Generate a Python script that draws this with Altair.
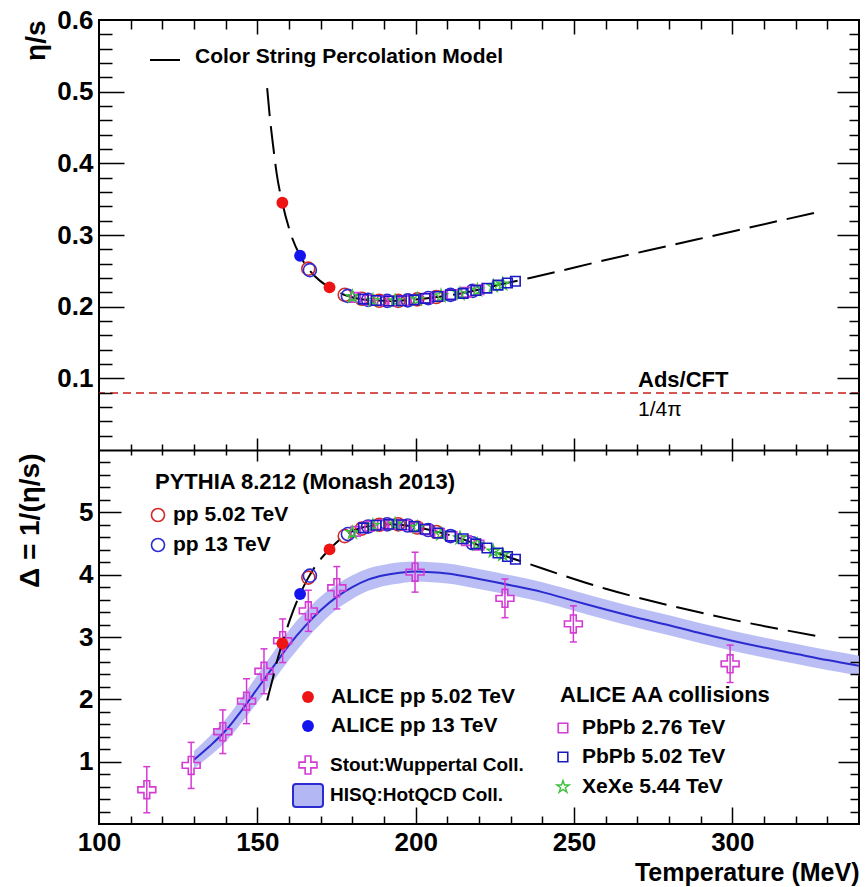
import altair as alt
import pandas as pd

# ---------------- data ----------------
# Color String Percolation Model curve (eta/s vs temperature in MeV)
cspm_T = [153.1, 154.0, 155.0, 156.1, 157.9, 160.3, 163.5, 166.1, 169.8, 172.8, 177.2,
          183.5, 191.9, 202.4, 215.0, 228.8, 236.1, 260.0, 280.0, 300.0, 328.0]
cspm_eta = [0.505, 0.462, 0.424, 0.386, 0.345, 0.305, 0.271, 0.253, 0.236, 0.227, 0.217,
            0.210, 0.208, 0.211, 0.219, 0.233, 0.240, 0.265, 0.285, 0.305, 0.333]

# ALICE pp points (filled circles)
alice_pp502_T = [157.9, 172.8]
alice_pp502_eta = [0.345, 0.227]
alice_pp13_T = [163.5]
alice_pp13_eta = [0.271]

# PYTHIA 8.212 (open circles)
pythia502_T = [166.1, 177.6, 183.0, 188.5, 194.5, 200.5, 206.5]
pythia502_eta = [0.253, 0.2165, 0.211, 0.2083, 0.208, 0.2102, 0.2135]
pythia13_T = [166.6, 178.6, 185.0, 191.0, 197.5, 204.0, 211.0, 218.0]
pythia13_eta = [0.251, 0.215, 0.2095, 0.208, 0.2088, 0.212, 0.2165, 0.222]

# ALICE AA collisions
pbpb276_T = [181.0, 185.5, 189.5, 193.0, 196.5, 200.0, 203.5, 207.5, 211.5, 216.0, 220.0]
pbpb276_eta = [0.213, 0.2093, 0.2082, 0.208, 0.2085, 0.210, 0.2118, 0.2145, 0.2168, 0.220, 0.2235]
pbpb502_T = [183.5, 187.5, 191.5, 195.5, 199.5, 203.0, 207.0, 211.0, 215.0, 219.0, 222.5,
             226.0, 229.0, 231.5]
pbpb502_eta = [0.2105, 0.2086, 0.208, 0.2083, 0.2095, 0.2115, 0.2142, 0.2165, 0.2185, 0.2225,
               0.2258, 0.230, 0.233, 0.2355]
xexe_T = [180.0, 186.5, 193.5, 200.5, 208.0, 214.0, 219.5, 224.5, 227.5]
xexe_eta = [0.214, 0.2088, 0.208, 0.2102, 0.215, 0.218, 0.223, 0.2285, 0.2315]

# Stout: Wuppertal lattice points (Delta = 1/(eta/s)) with errors
stout_T = [115.1, 129.1, 139.1, 146.6, 152.1, 158.0, 166.1, 175.1, 199.8, 228.2, 249.8, 299.3]
stout_D = [0.55, 0.94, 1.48, 1.97, 2.45, 2.94, 3.42, 3.79, 4.04, 3.62, 3.21, 2.57]
stout_err = [0.37, 0.37, 0.35, 0.36, 0.36, 0.35, 0.33, 0.34, 0.32, 0.31, 0.29, 0.30]

# HISQ: HotQCD band (centre and half width)
hisq_T = [130, 135, 140, 145, 150, 155, 160, 165, 170, 175, 180, 185, 190, 195, 200, 205,
          210, 220, 230, 240, 250, 260, 270, 280, 290, 300, 310, 320, 330, 340]
hisq_D = [1.03, 1.25, 1.50, 1.82, 2.17, 2.52, 2.87, 3.17, 3.43, 3.64, 3.80, 3.92, 3.99, 4.03,
          4.05, 4.04, 4.02, 3.93, 3.83, 3.72, 3.58, 3.44, 3.31, 3.19, 3.06, 2.94, 2.83, 2.73,
          2.63, 2.54]
hisq_err = [0.14, 0.16, 0.18, 0.20, 0.22, 0.23, 0.24, 0.23, 0.22, 0.20, 0.19, 0.18, 0.17,
            0.17, 0.16, 0.16, 0.16, 0.16, 0.16, 0.16, 0.16, 0.16, 0.16, 0.16, 0.16, 0.16,
            0.16, 0.16, 0.16, 0.16]

# AdS/CFT bound 1/4pi
ads_cft = [0.0796]

# axis ticks / labels
x_labels = [100, 150, 200, 250, 300]
x_major = [150, 200, 250, 300]
x_minor = [110, 120, 130, 140, 160, 170, 180, 190, 210, 220, 230, 240, 260, 270, 280, 290,
           310, 320, 330]
ytop_labels = [0.1, 0.2, 0.3, 0.4, 0.5, 0.6]
ytop_major = [0.1, 0.2, 0.3, 0.4, 0.5]
ytop_minor = [0.02, 0.04, 0.06, 0.08, 0.12, 0.14, 0.16, 0.18, 0.22, 0.24, 0.26, 0.28, 0.32,
              0.34, 0.36, 0.38, 0.42, 0.44, 0.46, 0.48, 0.52, 0.54, 0.56, 0.58]
ybot_labels = [1, 2, 3, 4, 5]
ybot_major = [1, 2, 3, 4, 5]
ybot_minor = [0.2, 0.4, 0.6, 0.8, 1.2, 1.4, 1.6, 1.8, 2.2, 2.4, 2.6, 2.8, 3.2, 3.4, 3.6, 3.8,
              4.2, 4.4, 4.6, 4.8, 5.2, 5.4, 5.6, 5.8]

# ---------------- styling ----------------
FONT = "Liberation Sans"
W, H = 760, 804
SPLIT = 430
RED = "#ee1414"
BLUE = "#1414ee"
MAG = "#d43ad4"
GREEN = "#3cc03c"
HISQ_LINE = "#2b2bd0"
HISQ_FILL = "#b3b7f3"
CROSS = "M-1,-0.32H-0.32V-1H0.32V-0.32H1V0.32H0.32V1H-0.32V0.32H-1Z"
STAR = ("M0,-1L0.2234,-0.3074L0.9511,-0.309L0.3614,0.1174L0.5878,0.809L0,0.38"
        "L-0.5878,0.809L-0.3614,0.1174L-0.9511,-0.309L-0.2234,-0.3074Z")

x_scale = alt.Scale(domain=[100, 340], nice=False, zero=False)


def y_top():
    return alt.Scale(domain=[0, 0.6], range=[SPLIT, 0], nice=False, zero=False)


def y_bot():
    return alt.Scale(domain=[0, 6], range=[H, SPLIT], nice=False, zero=False)


def xenc(field="T"):
    return alt.X(f"{field}:Q", scale=x_scale, axis=None)


layers = []

# HISQ band and line
hisq = pd.DataFrame({"T": hisq_T, "D": hisq_D, "e": hisq_err})
layers.append(
    alt.Chart(hisq)
    .transform_calculate(lo="datum.D - datum.e", hi="datum.D + datum.e")
    .mark_area(color=HISQ_FILL, opacity=0.9, interpolate="monotone")
    .encode(x=xenc(), y=alt.Y("lo:Q", scale=y_bot(), axis=None), y2="hi:Q")
)
layers.append(
    alt.Chart(hisq)
    .mark_line(color=HISQ_LINE, strokeWidth=2, interpolate="monotone")
    .encode(x=xenc(), y=alt.Y("D:Q", scale=y_bot(), axis=None))
)

# Stout points with error bars
stout = pd.DataFrame({"T": stout_T, "D": stout_D, "e": stout_err})
stout_c = alt.Chart(stout).transform_calculate(lo="datum.D - datum.e", hi="datum.D + datum.e")
layers.append(
    stout_c.mark_rule(color=MAG, strokeWidth=1.5)
    .encode(x=xenc(), y=alt.Y("lo:Q", scale=y_bot(), axis=None), y2="hi:Q")
)
for f in ["lo", "hi"]:
    layers.append(
        stout_c.mark_tick(color=MAG, orient="horizontal", size=7, thickness=1.5, opacity=1)
        .encode(x=xenc(), y=alt.Y(f"{f}:Q", scale=y_bot(), axis=None))
    )
layers.append(
    stout_c.mark_point(shape=CROSS, size=320, filled=False, color=MAG, strokeWidth=1.6, opacity=1)
    .encode(x=xenc(), y=alt.Y("D:Q", scale=y_bot(), axis=None))
)

# Color String Percolation curve, both panels
cspm = pd.DataFrame({"T": cspm_T, "eta": cspm_eta})
layers.append(
    alt.Chart(cspm)
    .mark_line(color="black", strokeWidth=2, strokeDash=[28, 10], interpolate="monotone")
    .encode(x=xenc(), y=alt.Y("eta:Q", scale=y_top(), axis=None))
)
layers.append(
    alt.Chart(cspm)
    .transform_calculate(delta="1 / datum.eta")
    .mark_line(color="black", strokeWidth=2, strokeDash=[28, 10], interpolate="monotone")
    .encode(x=xenc(), y=alt.Y("delta:Q", scale=y_bot(), axis=None))
)

# AdS/CFT line
layers.append(
    alt.Chart(pd.DataFrame({"v": ads_cft}))
    .mark_rule(color="#c81e1e", strokeWidth=1.5, strokeDash=[8, 5])
    .encode(y=alt.Y("v:Q", scale=y_top(), axis=None))
)


def on_curve(T, eta, **mark):
    df = pd.DataFrame({"T": T, "eta": eta})
    top = alt.Chart(df).mark_point(opacity=1, **mark).encode(
        x=xenc(), y=alt.Y("eta:Q", scale=y_top(), axis=None))
    bot = (alt.Chart(df).transform_calculate(delta="1 / datum.eta")
           .mark_point(opacity=1, **mark)
           .encode(x=xenc(), y=alt.Y("delta:Q", scale=y_bot(), axis=None)))
    return [top, bot]


layers += on_curve(pythia502_T, pythia502_eta, shape="circle", size=170, filled=False,
                   color="#d22a2a", strokeWidth=1.6)
layers += on_curve(pythia13_T, pythia13_eta, shape="circle", size=170, filled=False,
                   color="#2a2ad2", strokeWidth=1.6)
layers += on_curve(pbpb276_T, pbpb276_eta, shape="square", size=90, filled=False,
                   color=MAG, strokeWidth=1.6)
layers += on_curve(xexe_T, xexe_eta, shape=STAR, size=170, filled=False,
                   color=GREEN, strokeWidth=1.4)
layers += on_curve(pbpb502_T, pbpb502_eta, shape="square", size=90, filled=False,
                   color="#1a1ac4", strokeWidth=1.6)
layers += on_curve(alice_pp502_T, alice_pp502_eta, shape="circle", size=140, filled=True,
                   color=RED)
layers += on_curve(alice_pp13_T, alice_pp13_eta, shape="circle", size=140, filled=True,
                   color=BLUE)

# ---------------- legends / annotations ----------------
one = pd.DataFrame({"k": [0]})


def text(s, x, y, size=21, weight="bold"):
    return alt.Chart(one).mark_text(
        text=s, font=FONT, fontSize=size, fontWeight=weight, align="left",
        baseline="middle", color="black").encode(x=alt.value(x), y=alt.value(y))


def symbol(x, y, **mark):
    return alt.Chart(one).mark_point(opacity=1, **mark).encode(x=alt.value(x), y=alt.value(y))


layers.append(alt.Chart(one).mark_rule(color="black", strokeWidth=2)
              .encode(x=alt.value(51), x2=alt.value(81), y=alt.value(40)))
layers.append(text("Color String Percolation Model", 96, 37, size=21))
layers.append(text("Ads/CFT", 539, 360, size=22))
layers.append(text("1/4π", 539, 390, size=21, weight="normal"))

layers.append(text("PYTHIA 8.212 (Monash 2013)", 56, 462, size=22))
layers.append(symbol(59, 495, shape="circle", size=170, filled=False, color="#d22a2a", strokeWidth=1.6))
layers.append(text("pp 5.02 TeV", 74, 495))
layers.append(symbol(59, 525, shape="circle", size=170, filled=False, color="#2a2ad2", strokeWidth=1.6))
layers.append(text("pp 13 TeV", 74, 525))

layers.append(symbol(209, 677, shape="circle", size=140, filled=True, color=RED))
layers.append(text("ALICE pp 5.02 TeV", 232, 677))
layers.append(symbol(209, 706, shape="circle", size=140, filled=True, color=BLUE))
layers.append(text("ALICE pp 13 TeV", 232, 706))
layers.append(symbol(209, 745, shape=CROSS, size=320, filled=False, color=MAG, strokeWidth=1.6))
layers.append(text("Stout:Wuppertal Coll.", 231, 745, size=19))
layers.append(alt.Chart(one).mark_rect(fill=HISQ_FILL, stroke=HISQ_LINE, strokeWidth=2, cornerRadius=3)
              .encode(x=alt.value(194), x2=alt.value(224), y=alt.value(764), y2=alt.value(787)))
layers.append(text("HISQ:HotQCD Coll.", 231, 775, size=19))

layers.append(text("ALICE AA collisions", 461, 675, size=22))
layers.append(symbol(464, 708, shape="square", size=90, filled=False, color=MAG, strokeWidth=1.6))
layers.append(text("PbPb 2.76 TeV", 483, 708))
layers.append(symbol(464, 737, shape="square", size=90, filled=False, color="#1a1ac4", strokeWidth=1.6))
layers.append(text("PbPb 5.02 TeV", 483, 737))
layers.append(symbol(464, 767, shape=STAR, size=170, filled=False, color=GREEN, strokeWidth=1.4))
layers.append(text("XeXe 5.44 TeV", 483, 767))

# ---------------- axes (ROOT style inner ticks on all sides) ----------------


def tick_axis(orient, offset, values, size, domain=False):
    return alt.Axis(orient=orient, offset=offset, values=values, labels=False, title=None,
                    domain=domain, domainColor="black", domainWidth=2, ticks=True,
                    tickColor="black", tickWidth=1.5, tickSize=size, grid=False, zindex=2)


label_common = dict(ticks=False, tickSize=0, domain=False, grid=False, labelFont=FONT,
                    labelFontSize=26, labelFontWeight="bold", labelColor="black",
                    titleFont=FONT, titleFontWeight="bold", titleColor="black")

x_label_axis = alt.Axis(orient="bottom", values=x_labels, format="d", labelFlush=False,
                        labelPadding=5, title="Temperature (MeV)", titleFontSize=25,
                        titleAlign="right", titleAnchor="end", titleBaseline="alphabetic",
                        titleX=W, titleY=56, **label_common)
ytop_label_axis = alt.Axis(orient="left", values=ytop_labels, format=".1f", labelPadding=6,
                           title="η/s", titleFontSize=28, titleAngle=270, titleAlign="right",
                           titleBaseline="middle", titleX=-63, titleY=0, **label_common)
ybot_label_axis = alt.Axis(orient="left", values=ybot_labels, format="d", labelPadding=6,
                           title="Δ = 1/(η/s)", titleFontSize=28, titleAngle=270,
                           titleAlign="right", titleBaseline="middle", titleX=-69,
                           titleY=SPLIT + 3, **label_common)

guide_df = pd.DataFrame({"T": [200], "v": [0.3]})


def guide(x_axis, y_axis, panel):
    ysc = y_top() if panel == "top" else y_bot()
    xe = alt.X("T:Q", scale=x_scale, axis=x_axis) if x_axis is not None else xenc()
    return alt.Chart(guide_df).mark_point(opacity=0).encode(
        x=xe, y=alt.Y("v:Q", scale=ysc, axis=y_axis))


# x axes: bottom edge (ticks up), top edge (ticks down), separator (both ways)
x_axes = [
    x_label_axis,
    tick_axis("top", -H, x_major, 17),
    tick_axis("top", -H, x_minor, 8),
    tick_axis("bottom", -H, x_major, 14),
    tick_axis("bottom", -H, x_minor, 9),
    tick_axis("top", -SPLIT, x_major, 12),
    tick_axis("top", -SPLIT, x_minor, 6),
    tick_axis("bottom", -(H - SPLIT), x_major, 11, domain=True),
    tick_axis("bottom", -(H - SPLIT), x_minor, 5),
]
top_y_axes = [
    ytop_label_axis,
    tick_axis("right", -W, ytop_major, 25),
    tick_axis("right", -W, ytop_minor, 13),
    tick_axis("left", -W, ytop_major, 22),
    tick_axis("left", -W, ytop_minor, 10),
]
bot_y_axes = [
    ybot_label_axis,
    tick_axis("right", -W, ybot_major, 22),
    tick_axis("right", -W, ybot_minor, 11),
    tick_axis("left", -W, ybot_major, 21),
    tick_axis("left", -W, ybot_minor, 9),
]
y_axes = [(a, "top") for a in top_y_axes] + [(a, "bot") for a in bot_y_axes]
for i, (ya, panel) in enumerate(y_axes):
    xa = x_axes[i] if i < len(x_axes) else None
    layers.append(guide(xa, ya, panel))

chart = (
    alt.layer(*layers)
    .resolve_scale(y="independent")
    .resolve_axis(x="independent", y="independent")
    .properties(width=W, height=H, autosize=alt.AutoSizeParams(type="none"),
                padding={"left": 99, "top": 20, "right": 7, "bottom": 63},
                background="white")
    .configure_view(stroke="black", strokeWidth=2)
    .configure_axis(grid=False)
)

chart.save("out.html", embed_options={"renderer": "svg", "actions": False})
